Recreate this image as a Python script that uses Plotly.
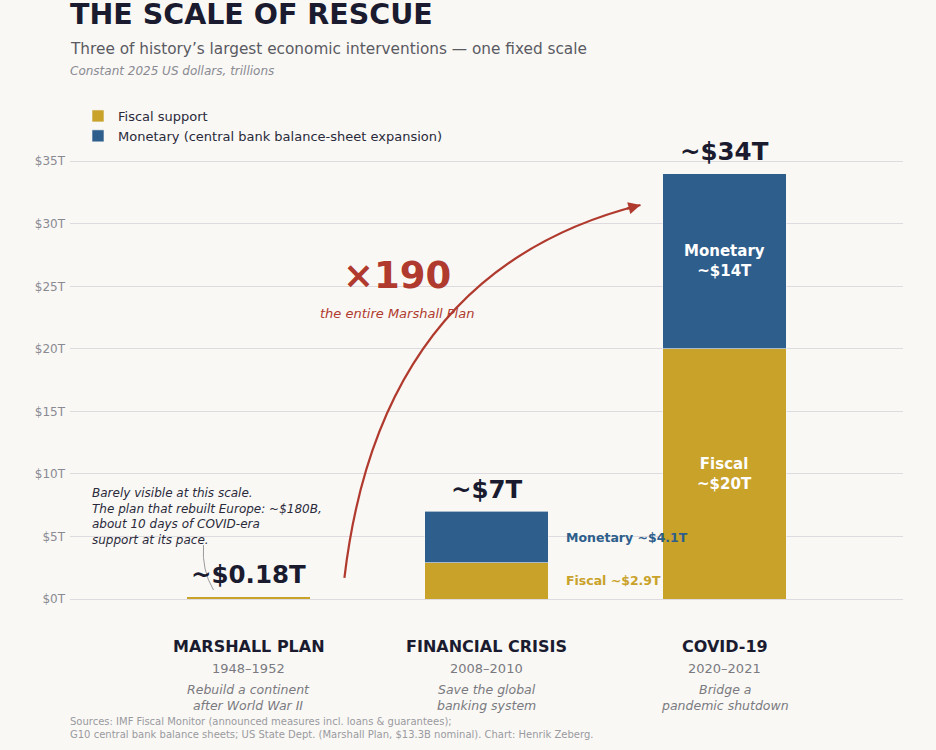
import plotly.graph_objects as go

# data
categories = ["MARSHALL PLAN", "FINANCIAL CRISIS", "COVID-19"]
periods = ["1948–1952", "2008–2010", "2020–2021"]
purposes = ["Rebuild a continent<br>after World War II",
            "Save the global<br>banking system",
            "Bridge a<br>pandemic shutdown"]
fiscal = [0.18, 2.9, 20]
monetary = [0, 4.1, 14]
total_labels = ["~$0.18T", "~$7T", "~$34T"]
tick_vals = [0, 5, 10, 15, 20, 25, 30, 35]
tick_text = ["$0T", "$5T", "$10T", "$15T", "$20T", "$25T", "$30T", "$35T"]

GOLD = "#C9A22A"
BLUE = "#2E5E8B"
RED = "#B03A2E"
INK = "#1B1B30"
BG = "#F9F8F5"
GRID = "#DDDAE0"
FONT = "DejaVu Sans"

xs = list(range(len(categories)))
totals = [f + m for f, m in zip(fiscal, monetary)]

# plot area in pixels: left 70, right 903, top 155, bottom 599
def py(p):
    return (599 - p) / 444

def px(p):
    return (p - 70) / 833

fig = go.Figure()
fig.add_trace(go.Bar(x=xs, y=fiscal, name="Fiscal support", marker_color=GOLD,
                     marker_line=dict(color=BG, width=0.6), width=0.52, hoverinfo="skip"))
fig.add_trace(go.Bar(x=xs, y=monetary, name="Monetary (central bank balance-sheet expansion)",
                     marker_color=BLUE, marker_line=dict(color=BG, width=0.6), width=0.52,
                     hoverinfo="skip"))

ann = []
# totals above bars
for x, t, lab in zip(xs, totals, total_labels):
    ann.append(dict(x=x, y=t, text=f"<b>{lab}</b>", showarrow=False, yshift=22,
                    yanchor="middle", font=dict(size=24.5, color=INK)))

# inside labels for COVID bar
ann.append(dict(x=xs[2], y=fiscal[2] / 2, text="<b>Fiscal<br>~$20T</b>", showarrow=False,
                yanchor="middle", font=dict(size=15, color="white")))
ann.append(dict(x=xs[2], y=fiscal[2] + monetary[2] / 2, text="<b>Monetary<br>~$14T</b>",
                showarrow=False, yanchor="middle", font=dict(size=15, color="white")))

# side labels for financial crisis
ann.append(dict(x=xs[1] + 0.325, y=fiscal[1] + monetary[1] / 2, text="<b>Monetary ~$4.1T</b>",
                showarrow=False, xanchor="left", yanchor="middle",
                font=dict(size=12.5, color=BLUE)))
ann.append(dict(x=xs[1] + 0.325, y=fiscal[1] / 2, text="<b>Fiscal ~$2.9T</b>",
                showarrow=False, xanchor="left", yanchor="middle",
                font=dict(size=12.5, color=GOLD)))

# multiplier callout
ann.append(dict(x=0.626, y=25.9, text="<b>×190</b>", showarrow=False, yanchor="middle",
                font=dict(size=37, color=RED)))
ann.append(dict(x=0.626, y=22.8, text="<i>the entire Marshall Plan</i>", showarrow=False,
                yanchor="middle", font=dict(size=13, color=RED)))
# arrowhead
ann.append(dict(x=1.647, y=31.5, ax=-15, ay=4, text="", showarrow=True, arrowhead=2,
                arrowsize=1.1, arrowwidth=2.2, arrowcolor=RED, standoff=0))

# marshall note
ann.append(dict(x=-0.668, y=9.2, xanchor="left", yanchor="top", align="left", showarrow=False,
                text="<i>Barely visible at this scale.<br>The plan that rebuilt Europe: ~$180B,"
                     "<br>about 10 days of COVID-era<br>support at its pace.</i>",
                font=dict(size=12, color="#2A2A3A")))

# category labels below the axis
for x, c, p, d in zip(xs, categories, periods, purposes):
    ann.append(dict(x=x, y=py(646), yref="paper", yanchor="middle", text=f"<b>{c}</b>",
                    showarrow=False, font=dict(size=16, color=INK)))
    ann.append(dict(x=x, y=py(668), yref="paper", yanchor="middle", text=p, showarrow=False,
                    font=dict(size=13, color="#7A7A80")))
    ann.append(dict(x=x, y=py(697), yref="paper", yanchor="middle", text=f"<i>{d}</i>",
                    showarrow=False, font=dict(size=12.5, color="#7A7A80")))

# header
ann.append(dict(x=0, y=py(15), xref="paper", yref="paper", xanchor="left", yanchor="middle",
                xshift=-2, showarrow=False, text="<b>THE SCALE OF RESCUE</b>",
                font=dict(size=28.5, color=INK)))
ann.append(dict(x=0, y=py(49), xref="paper", yref="paper", xanchor="left", yanchor="middle",
                xshift=-2, showarrow=False,
                text="Three of history’s largest economic interventions — one fixed scale",
                font=dict(size=15.3, color="#5A5A62")))
ann.append(dict(x=0, y=py(71), xref="paper", yref="paper", xanchor="left", yanchor="middle",
                xshift=-2, showarrow=False, text="<i>Constant 2025 US dollars, trillions</i>",
                font=dict(size=12, color="#8A8A92")))
# footnote
ann.append(dict(x=0, y=py(714), xref="paper", yref="paper", xanchor="left", yanchor="top",
                xshift=-2, align="left", showarrow=False,
                text="Sources: IMF Fiscal Monitor (announced measures incl. loans & guarantees);"
                     "<br>G10 central bank balance sheets; US State Dept. (Marshall Plan, $13.3B nominal). "
                     "Chart: Henrik Zeberg.",
                font=dict(size=10, color="#9A9AA0")))

shapes = [
    # curved arrow from Marshall Plan up to COVID bar
    dict(type="path", xref="x", yref="y", path="M 0.403,1.68 Q 0.555,26.3 1.647,31.5",
         line=dict(color=RED, width=2.2)),
    # thin connector from note to the Marshall bar
    dict(type="path", xref="x", yref="y", path="M -0.189,4.32 Q -0.197,2.3 -0.147,0.72",
         line=dict(color="#9A9AA0", width=1)),
]

fig.update_layout(
    width=936, height=750,
    paper_bgcolor=BG, plot_bgcolor=BG,
    barmode="stack",
    font=dict(family=FONT, color=INK),
    margin=dict(l=70, r=33, t=155, b=151),
    showlegend=True,
    legend=dict(x=px(78), y=py(101), xanchor="left", yanchor="top", traceorder="normal",
                bgcolor="rgba(0,0,0,0)", font=dict(size=13, color="#2A2A3A"),
                itemwidth=30),
    xaxis=dict(range=[-0.75, 2.75], showticklabels=False, showgrid=False, zeroline=False,
               showline=True, linecolor=GRID, linewidth=1, fixedrange=True),
    yaxis=dict(range=[0, 35.5], tickvals=tick_vals, ticktext=tick_text, showgrid=True,
               gridcolor=GRID, gridwidth=1, zeroline=False, showline=False,
               tickfont=dict(size=12, color="#8A8A92"), ticklabelstandoff=4, fixedrange=True),
    annotations=ann,
    shapes=shapes,
)

fig.write_html("out.html", config={"displayModeBar": False},
               post_script="document.body.style.margin='0';"
                           "document.body.style.background='" + BG + "';")
